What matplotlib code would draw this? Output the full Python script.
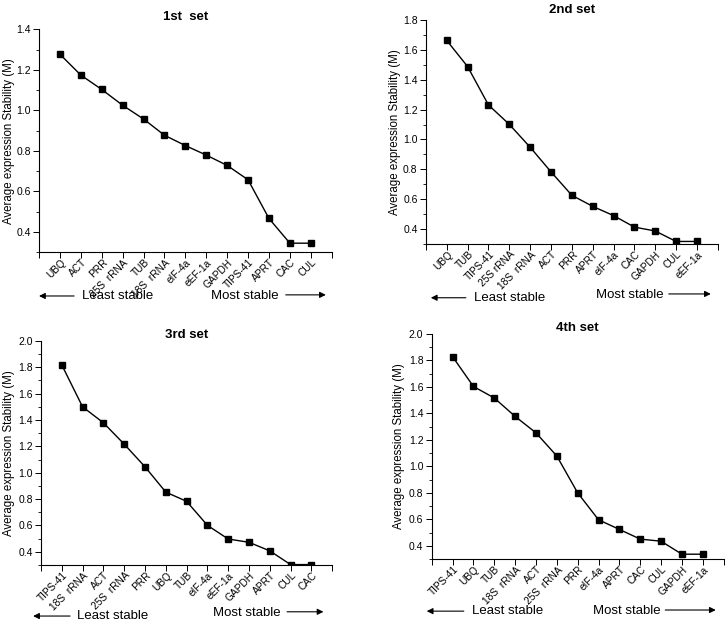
import matplotlib
matplotlib.use("Agg")
import matplotlib.pyplot as plt
import matplotlib.transforms as mtransforms
from matplotlib.ticker import MultipleLocator

plt.rcParams['font.family'] = ['Liberation Sans', 'DejaVu Sans']

genes1 = ["UBQ", "ACT", "PRR", "25S  rRNA", "TUB", "18S  rRNA", "eIF-4a",
          "eEF-1a", "GAPDH", "TIPS-41", "APRT", "CAC", "CUL"]
vals1 = [1.277, 1.174, 1.103, 1.025, 0.957, 0.877, 0.826, 0.779, 0.728,
         0.657, 0.466, 0.344, 0.344]

genes2 = ["UBQ", "TUB", "TIPS-41", "25S rRNA", "18S  rRNA", "ACT", "PRR",
          "APRT", "eIF-4a", "CAC", "GAPDH", "CUL", "eEF-1a"]
vals2 = [1.663, 1.488, 1.231, 1.101, 0.948, 0.783, 0.626, 0.552, 0.490,
         0.413, 0.387, 0.317, 0.317]

genes3 = ["TIPS-41", "18S  rRNA", "ACT", "25S  rRNA", "PRR", "UBQ", "TUB",
          "eIF-4a", "eEF-1a", "GAPDH", "APRT", "CUL", "CAC"]
vals3 = [1.818, 1.500, 1.379, 1.217, 1.045, 0.853, 0.783, 0.601, 0.497,
         0.472, 0.407, 0.303, 0.303]

genes4 = ["TIPS-41", "UBQ", "TUB", "18S  rRNA", "ACT", "25S  rRNA", "PRR",
          "eIF-4a", "APRT", "CAC", "CUL", "GAPDH", "eEF-1a"]
vals4 = [1.828, 1.603, 1.516, 1.377, 1.253, 1.078, 0.800, 0.597, 0.524,
         0.451, 0.435, 0.337, 0.337]

titles = ["1st  set", "2nd set", "3rd set", "4th set"]
ytops = [1.4, 1.8, 2.0, 2.0]

# axes boxes in figure fractions [left, bottom, width, height]
boxes = [[0.0536, 0.596, 0.402, 0.357],
         [0.585, 0.609, 0.401, 0.359],
         [0.0563, 0.0946, 0.400, 0.359],
         [0.593, 0.104, 0.401, 0.361]]
title_pads = [6.5, 5, 1.5, 0.5]
ylab_x = [-0.082, -0.085, -0.09, -0.092]
# arrow / text positions in axes fraction
left_arrow = [(0.12, 0.0, -0.197), (0.137, 0.017, -0.24), (0.10, -0.027, -0.228), (0.11, -0.017, -0.231)]
least_x = [0.147, 0.164, 0.124, 0.137]
most = [(0.587, 0.843, 0.98, -0.197), (0.582, 0.832, 0.976, -0.228),
        (0.59, 0.845, 0.97, -0.214), (0.551, 0.80, 0.973, -0.231)]

fig = plt.figure(figsize=(7.28, 6.24), dpi=100)
# labels sit a little right of and below their tick
shift = mtransforms.ScaledTranslation(0.04, -0.09, fig.dpi_scale_trans)

data = [(genes1, vals1), (genes2, vals2), (genes3, vals3), (genes4, vals4)]
for i, (genes, vals) in enumerate(data):
    ax = fig.add_axes(boxes[i])
    x = list(range(1, len(genes) + 1))
    ax.plot(x, vals, color='black', lw=1.0, marker='s', markersize=4.5)
    ax.set_xlim(0, len(genes) + 1)
    ax.set_ylim(0.3, ytops[i])
    ax.spines['top'].set_visible(False)
    ax.spines['right'].set_visible(False)
    ax.spines['left'].set_linewidth(0.8)
    ax.spines['bottom'].set_linewidth(0.8)
    ax.set_xticks(range(0, len(genes) + 2))
    ax.set_xticklabels([])
    trans = mtransforms.blended_transform_factory(ax.transData, ax.transAxes) + shift
    for xi, g in zip(x, genes):
        ax.text(xi, 0, g, transform=trans, rotation=45, ha='right', va='center',
                rotation_mode='anchor', fontsize=7.3)
    ax.yaxis.set_major_locator(MultipleLocator(0.2))
    ax.yaxis.set_minor_locator(MultipleLocator(0.1))
    ax.yaxis.set_major_formatter('{x:.1f}')
    ax.tick_params(axis='y', which='major', direction='out', length=4, width=0.7,
                   labelsize=7.5, pad=2)
    ax.tick_params(axis='y', which='minor', direction='out', length=2, width=0.6)
    ax.tick_params(axis='x', direction='out', length=4, width=0.7)
    ax.set_ylabel("Average expression Stability (M)", fontsize=8.3)
    ax.yaxis.set_label_coords(ylab_x[i], 0.5)
    ax.set_title(titles[i], fontsize=9.5, fontweight='bold', pad=title_pads[i])

    x1, x0, yy = left_arrow[i]
    ax.annotate('', xy=(x0, yy), xytext=(x1, yy), xycoords='axes fraction',
                arrowprops=dict(arrowstyle='-|>', lw=0.8, color='black',
                                mutation_scale=9, shrinkA=0, shrinkB=0),
                annotation_clip=False)
    ax.text(least_x[i], yy, "Least stable", transform=ax.transAxes,
            fontsize=9.5, va='center', ha='left')
    mx, a0, a1, my = most[i]
    ax.text(mx, my, "Most stable", transform=ax.transAxes,
            fontsize=9.5, va='center', ha='left')
    ax.annotate('', xy=(a1, my + 0.005), xytext=(a0, my + 0.005), xycoords='axes fraction',
                arrowprops=dict(arrowstyle='-|>', lw=0.8, color='black',
                                mutation_scale=9, shrinkA=0, shrinkB=0),
                annotation_clip=False)

fig.savefig("out.png", dpi=100)
